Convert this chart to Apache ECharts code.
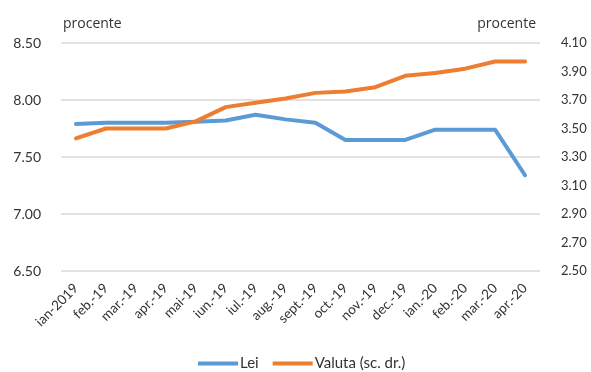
<!DOCTYPE html>
<html>
<head>
<meta charset="utf-8">
<script src="https://cdn.jsdelivr.net/npm/echarts@6/dist/echarts.min.js"></script>
<style>
  html, body { margin: 0; padding: 0; background: #fff; }
  #chart { width: 591px; height: 372px; }
</style>
</head>
<body>
<div id="chart"></div>
<script>
// Monthly categories, Jan 2019 – Apr 2020
const months = ['ian-2019', 'feb.-19', 'mar.-19', 'apr.-19', 'mai-19', 'iun.-19', 'iul.-19', 'aug.-19',
  'sept.-19', 'oct.-19', 'nov.-19', 'dec.-19', 'ian.-20', 'feb.-20', 'mar.-20', 'apr.-20'];

// Rates in lei (left axis), percent
const lei = [7.79, 7.80, 7.80, 7.80, 7.81, 7.82, 7.87, 7.83, 7.80, 7.65, 7.65, 7.65, 7.74, 7.74, 7.74, 7.34];

// Rates in foreign currency (right axis), percent
const valuta = [3.43, 3.50, 3.50, 3.50, 3.55, 3.65, 3.68, 3.71, 3.75, 3.76, 3.79, 3.87, 3.89, 3.92, 3.97, 3.97];

const seriesNames = ['Lei', 'Valuta (sc. dr.)'];
const axisUnit = 'procente';

const txt = '#333333';
const font = 'Lato, "Open Sans", sans-serif';

const chart = echarts.init(document.getElementById('chart'), null, { renderer: 'canvas' });
chart.setOption({
  animation: false,
  backgroundColor: '#fff',
  textStyle: { fontFamily: font },
  grid: { left: 61, right: 51, top: 43, bottom: 101, containLabel: false },
  legend: {
    data: seriesNames,
    left: 193,
    top: 351,
    icon: 'rect',
    itemWidth: 40,
    itemHeight: 4,
    itemGap: 14,
    textStyle: { color: txt, fontSize: 15, fontFamily: font, padding: [0, 0, 0, -3] }
  },
  xAxis: {
    type: 'category',
    data: months,
    boundaryGap: true,
    axisLine: { show: false },
    axisTick: { show: false },
    axisLabel: { rotate: 45, margin: 15, color: txt, fontSize: 13.5, fontFamily: font, interval: 0 }
  },
  yAxis: [
    {
      type: 'value',
      min: 6.5, max: 8.5, interval: 0.5,
      name: axisUnit,
      nameLocation: 'end',
      nameGap: 12,
      nameTextStyle: { align: 'left', color: txt, fontSize: 14, fontFamily: '"Open Sans", sans-serif', padding: [0, 0, 0, 2] },
      axisLine: { show: false },
      axisTick: { show: false },
      axisLabel: { color: txt, fontSize: 14, fontFamily: font, margin: 20, formatter: v => v.toFixed(2) },
      splitLine: { lineStyle: { color: '#d9d9d9', width: 1.5 } }
    },
    {
      type: 'value',
      min: 2.5, max: 4.1, interval: 0.2,
      name: axisUnit,
      nameLocation: 'end',
      nameGap: 12,
      nameTextStyle: { align: 'right', color: txt, fontSize: 14, fontFamily: '"Open Sans", sans-serif', padding: [0, 4, 0, 0] },
      axisLine: { show: false },
      axisTick: { show: false },
      axisLabel: { color: txt, fontSize: 13, fontFamily: font, margin: 21, formatter: v => v.toFixed(2) },
      splitLine: { show: false }
    }
  ],
  series: [
    {
      name: seriesNames[0],
      type: 'line',
      yAxisIndex: 0,
      data: lei,
      symbol: 'none',
      lineStyle: { color: '#5b9bd5', width: 4, cap: 'round', join: 'round' },
      itemStyle: { color: '#5b9bd5' }
    },
    {
      name: seriesNames[1],
      type: 'line',
      yAxisIndex: 1,
      data: valuta,
      symbol: 'none',
      lineStyle: { color: '#ed7d31', width: 4, cap: 'round', join: 'round' },
      itemStyle: { color: '#ed7d31' }
    }
  ]
});
</script>
</body>
</html>
